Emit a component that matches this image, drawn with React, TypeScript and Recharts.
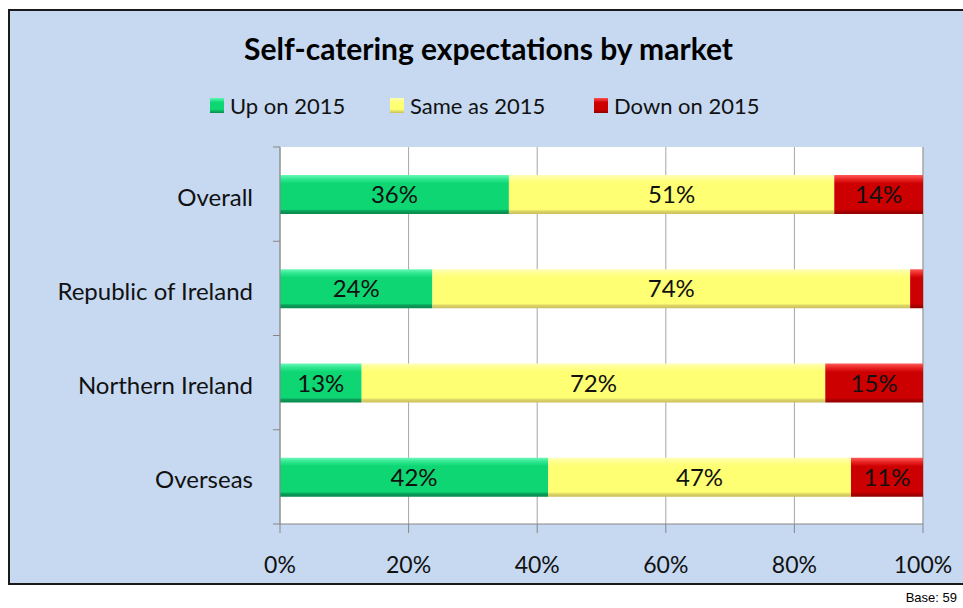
import React from 'react';
import { BarChart, Bar, XAxis, YAxis, CartesianGrid, LabelList } from 'recharts';

const markets = ['Overall', 'Republic of Ireland', 'Northern Ireland', 'Overseas'];
const upOn2015 = [35.6, 23.7, 12.7, 41.7];
const sameAs2015 = [50.6, 74.3, 72.1, 47.1];
const downOn2015 = [13.8, 2.0, 15.2, 11.2];
const xTicks = [0, 20, 40, 60, 80, 100];

const data = markets.map((market, i) => ({
  market,
  up: upOn2015[i],
  same: sameAs2015[i],
  down: downOn2015[i],
}));

const FONT = 'Lato, "Open Sans", sans-serif';
const PLOT_TOP = 139;
const PLOT_H = 377;
const BAND = PLOT_H / markets.length;

const pct = (v: any) => (Number(v) < 5 ? '' : `${Math.round(Number(v))}%`);

const CategoryTick = (props: any) => {
  const { x, y, payload, index } = props;
  return (
    <g>
      <line x1={x - 7} x2={x} y1={y - BAND / 2} y2={y - BAND / 2} stroke="#868686" />
      {index === markets.length - 1 && (
        <line x1={x - 7} x2={x} y1={y + BAND / 2} y2={y + BAND / 2} stroke="#868686" />
      )}
      <text x={x - 27} y={y + 2} textAnchor="end" dominantBaseline="central" fontSize={24} fill="#111" fontFamily={FONT}>
        {payload.value}
      </text>
    </g>
  );
};

const PercentTick = (props: any) => {
  const { x, y, payload } = props;
  return (
    <text x={x} y={y + 29} textAnchor="middle" dominantBaseline="central" fontSize={23} fill="#111" fontFamily={FONT}>
      {`${payload.value}%`}
    </text>
  );
};

const legendItems = [
  { name: 'Up on 2015', grad: 'linear-gradient(#5cf7b0, #0dd673 30%, #0dd673 75%, #0a8a4d)', left: 202 },
  { name: 'Same as 2015', grad: 'linear-gradient(#ffffb0, #ffff73 30%, #ffff73 75%, #c9c05a)', left: 382 },
  { name: 'Down on 2015', grad: 'linear-gradient(#ff5050, #cc0000 30%, #cc0000 75%, #900000)', left: 586 },
];

export default function App() {
  return (
    <div style={{ position: 'absolute', left: 8, top: 8, width: 955, height: 600, overflow: 'hidden', fontFamily: FONT }}>
      <div
        style={{
          position: 'absolute',
          left: 0,
          top: 1,
          width: 990,
          height: 576,
          boxSizing: 'border-box',
          border: '2px solid #1a1a1a',
          background: '#c6d9f1',
        }}
      />
      <div
        style={{
          position: 'absolute',
          left: 0,
          width: 955,
          top: 22,
          textAlign: 'center',
          fontSize: 30,
          fontWeight: 700,
          color: '#000',
          paddingLeft: 6,
          boxSizing: 'border-box',
        }}
      >
        Self-catering expectations by market
      </div>
      {legendItems.map((it) => (
        <div
          key={it.name}
          style={{ position: 'absolute', left: it.left, top: 84, display: 'flex', alignItems: 'center', fontSize: 22, color: '#111' }}
        >
          <span style={{ display: 'inline-block', width: 14, height: 15, background: it.grad, marginRight: 6 }} />
          {it.name}
        </div>
      ))}
      <div style={{ position: 'absolute', right: 6, top: 582, fontSize: 13, color: '#000', fontFamily: '"Liberation Sans Narrow", "Liberation Sans", sans-serif' }}>
        Base: 59
      </div>
      <div style={{ position: 'absolute', left: 0, top: 0 }}>
        <BarChart
          width={955}
          height={600}
          data={data}
          layout="vertical"
          margin={{ top: PLOT_TOP, right: 40, bottom: 44, left: 0 }}
        >
          <defs>
            <linearGradient id="gUp" x1="0" y1="0" x2="0" y2="1">
              <stop offset="0%" stopColor="#6af8b8" />
              <stop offset="10%" stopColor="#30e890" />
              <stop offset="22%" stopColor="#0dd673" />
              <stop offset="88%" stopColor="#0dd673" />
              <stop offset="92%" stopColor="#0b9e59" />
              <stop offset="100%" stopColor="#0a8a4d" />
            </linearGradient>
            <linearGradient id="gSame" x1="0" y1="0" x2="0" y2="1">
              <stop offset="0%" stopColor="#ffffb8" />
              <stop offset="12%" stopColor="#ffff88" />
              <stop offset="22%" stopColor="#ffff73" />
              <stop offset="88%" stopColor="#ffff73" />
              <stop offset="93%" stopColor="#dcd468" />
              <stop offset="100%" stopColor="#c9c05a" />
            </linearGradient>
            <linearGradient id="gDown" x1="0" y1="0" x2="0" y2="1">
              <stop offset="0%" stopColor="#ff5a5a" />
              <stop offset="12%" stopColor="#e82020" />
              <stop offset="22%" stopColor="#cc0000" />
              <stop offset="88%" stopColor="#cc0000" />
              <stop offset="93%" stopColor="#aa0000" />
              <stop offset="100%" stopColor="#900000" />
            </linearGradient>
          </defs>
          <CartesianGrid horizontal={false} stroke="#a6a6a6" fill="#ffffff" />
          <XAxis
            type="number"
            domain={[0, 100]}
            ticks={xTicks}
            interval={0}
            height={40}
            tickSize={9}
            tickMargin={2}
            axisLine={{ stroke: '#868686' }}
            tickLine={{ stroke: '#868686' }}
            tick={<PercentTick />}
          />
          <YAxis
            type="category"
            dataKey="market"
            width={272}
            tickSize={0}
            tickMargin={0}
            tickLine={false}
            axisLine={{ stroke: '#868686' }}
            tick={<CategoryTick />}
          />
          <Bar dataKey="up" stackId="a" barSize={39} fill="url(#gUp)" isAnimationActive={false}>
            <LabelList dataKey="up" position="center" formatter={pct} fill="#111" fontSize={24} fontFamily={FONT} />
          </Bar>
          <Bar dataKey="same" stackId="a" barSize={39} fill="url(#gSame)" isAnimationActive={false}>
            <LabelList dataKey="same" position="center" formatter={pct} fill="#111" fontSize={24} fontFamily={FONT} />
          </Bar>
          <Bar dataKey="down" stackId="a" barSize={39} fill="url(#gDown)" isAnimationActive={false}>
            <LabelList dataKey="down" position="center" formatter={pct} fill="#111" fontSize={24} fontFamily={FONT} />
          </Bar>
        </BarChart>
      </div>
    </div>
  );
}
